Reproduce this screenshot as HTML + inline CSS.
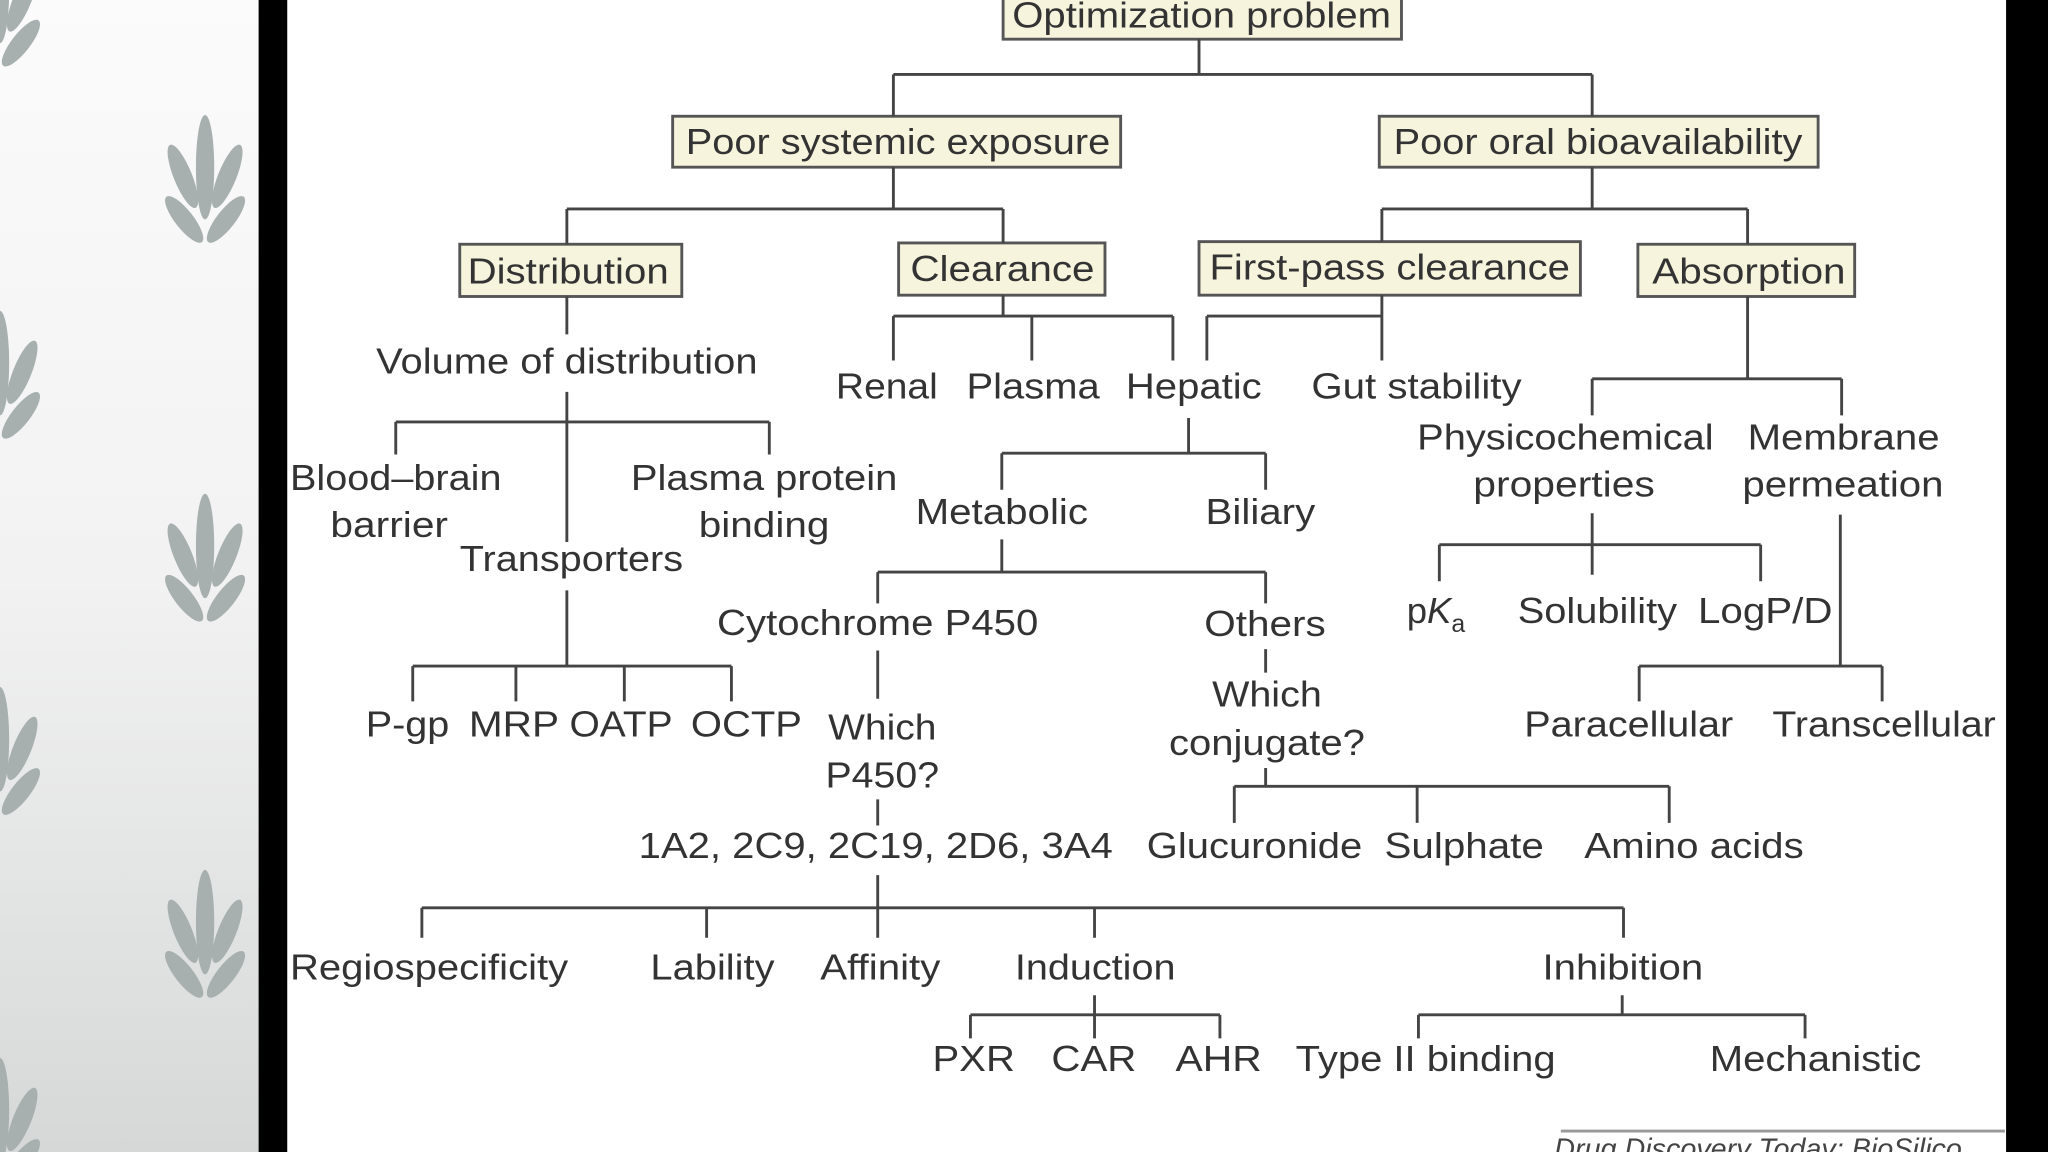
<!DOCTYPE html>
<html><head><meta charset="utf-8"><style>html,body{margin:0;padding:0;background:#fff}svg{display:block}</style></head>
<body>
<svg width="2048" height="1152" viewBox="0 0 1568 882" xmlns="http://www.w3.org/2000/svg">
<defs>
<linearGradient id="bg" x1="0" y1="0" x2="0" y2="1"><stop offset="0" stop-color="#fbfbfb"/><stop offset="0.5" stop-color="#f2f2f2"/><stop offset="1" stop-color="#d6d8d8"/></linearGradient>
<g id="leaf" fill="#a7afaf">
<ellipse cx="0" cy="-12" rx="7" ry="40"/>
<ellipse cx="-17" cy="-5" rx="7" ry="26" transform="rotate(-22 -17 -5)"/>
<ellipse cx="17" cy="-5" rx="7" ry="26" transform="rotate(22 17 -5)"/>
<ellipse cx="-16" cy="28" rx="7" ry="22" transform="rotate(-38 -16 28)"/>
<ellipse cx="16" cy="28" rx="7" ry="22" transform="rotate(38 16 28)"/>
</g>
</defs>
<rect x="0" y="0" width="198" height="882" fill="url(#bg)"/>
<use href="#leaf" x="157" y="140"/>
<use href="#leaf" x="157" y="430"/>
<use href="#leaf" x="157" y="718"/>
<use href="#leaf" x="0" y="5"/>
<use href="#leaf" x="0" y="290"/>
<use href="#leaf" x="0" y="578"/>
<use href="#leaf" x="0" y="862"/>
<rect x="198" y="0" width="22" height="882" fill="#000"/>
<rect x="220" y="0" width="1316" height="882" fill="#fff"/>
<rect x="1536" y="0" width="32" height="882" fill="#000"/>

<g fill="#f6f4dc" stroke="#555" stroke-width="2.2">
<rect x="768" y="-5" width="305" height="35"/>
<rect x="515" y="89" width="343" height="39"/>
<rect x="1056" y="89" width="336" height="39"/>
<rect x="352" y="187" width="170" height="40"/>
<rect x="688" y="186" width="158" height="40"/>
<rect x="918" y="185" width="292" height="41"/>
<rect x="1254" y="187" width="166" height="40"/>
</g>

<g stroke="#444" stroke-width="2.2" fill="none">
<path d="M918 30V57M684 57H1219M684 57V89M1219 57V89"/>
<path d="M684 128V160M434 160H768M434 160V187M768 160V186"/>
<path d="M1219 128V160M1058 160H1338M1058 160V185M1338 160V187"/>
<path d="M434 227V256M434 300V415M434 452V510M303 323H589M303 323V348M589 323V348"/>
<path d="M316 510H560M316 510V537M395 510V537M478 510V537M560 510V537"/>
<path d="M768 226V242M684 242H898M684 242V276M790 242V276M898 242V276"/>
<path d="M1058 226V276M924 242H1058M924 242V276"/>
<path d="M910 320V347M767 347H969M767 347V375M969 347V375"/>
<path d="M767 413V438M672 438H969M672 438V462M969 438V462"/>
<path d="M672 498V535M672 612V632M969 497V515M969 588V602M945 602H1278M945 602V630M1085 602V630M1278 602V630"/>
<path d="M672 670V718M323 695H1243M323 695V718M541 695V718M838 695V718M1243 695V718"/>
<path d="M838 762V795M743 777H934M743 777V795M934 777V795"/>
<path d="M1242 762V777M1086 777H1382M1086 777V795M1382 777V795"/>
<path d="M1338 227V290M1219 290H1410M1219 290V318M1410 290V318"/>
<path d="M1219 393V440M1102 417H1348M1102 417V445M1348 417V445"/>
<path d="M1409 394V510M1255 510H1441M1255 510V537M1441 510V537"/>
<path d="M1195 866H1535" stroke="#999"/>
</g>

<g font-family="Liberation Sans, sans-serif" font-size="28" fill="#333" lengthAdjust="spacingAndGlyphs">
<text x="775" y="21" textLength="290" lengthAdjust="spacingAndGlyphs">Optimization problem</text>
<text x="525" y="118" textLength="325" lengthAdjust="spacingAndGlyphs">Poor systemic exposure</text>
<text x="1067" y="118" textLength="313" lengthAdjust="spacingAndGlyphs">Poor oral bioavailability</text>
<text x="358" y="217" textLength="154" lengthAdjust="spacingAndGlyphs">Distribution</text>
<text x="697" y="215" textLength="141" lengthAdjust="spacingAndGlyphs">Clearance</text>
<text x="926" y="214" textLength="276" lengthAdjust="spacingAndGlyphs">First-pass clearance</text>
<text x="1265" y="217" textLength="148" lengthAdjust="spacingAndGlyphs">Absorption</text>
<text x="288" y="286" textLength="292" lengthAdjust="spacingAndGlyphs">Volume of distribution</text>
<text x="640" y="305" textLength="78" lengthAdjust="spacingAndGlyphs">Renal</text>
<text x="740" y="305" textLength="102" lengthAdjust="spacingAndGlyphs">Plasma</text>
<text x="862" y="305" textLength="104" lengthAdjust="spacingAndGlyphs">Hepatic</text>
<text x="1004" y="305" textLength="161" lengthAdjust="spacingAndGlyphs">Gut stability</text>
<text x="222" y="375" textLength="162" lengthAdjust="spacingAndGlyphs">Blood–brain</text>
<text x="253" y="411" textLength="90" lengthAdjust="spacingAndGlyphs">barrier</text>
<text x="483" y="375" textLength="204" lengthAdjust="spacingAndGlyphs">Plasma protein</text>
<text x="535" y="411" textLength="100" lengthAdjust="spacingAndGlyphs">binding</text>
<text x="352" y="437" textLength="171" lengthAdjust="spacingAndGlyphs">Transporters</text>
<text x="701" y="401" textLength="132" lengthAdjust="spacingAndGlyphs">Metabolic</text>
<text x="923" y="401" textLength="84" lengthAdjust="spacingAndGlyphs">Biliary</text>
<text x="1085" y="344" textLength="227" lengthAdjust="spacingAndGlyphs">Physicochemical</text>
<text x="1128" y="380" textLength="139" lengthAdjust="spacingAndGlyphs">properties</text>
<text x="1338" y="344" textLength="147" lengthAdjust="spacingAndGlyphs">Membrane</text>
<text x="1334" y="380" textLength="154" lengthAdjust="spacingAndGlyphs">permeation</text>
<text x="549" y="486" textLength="246" lengthAdjust="spacingAndGlyphs">Cytochrome P450</text>
<text x="922" y="487" textLength="93" lengthAdjust="spacingAndGlyphs">Others</text>
<text x="1077" y="477">p<tspan font-style="italic">K</tspan><tspan font-size="19" dy="7">a</tspan></text>
<text x="1162" y="477" textLength="122" lengthAdjust="spacingAndGlyphs">Solubility</text>
<text x="1300" y="477" textLength="103" lengthAdjust="spacingAndGlyphs">LogP/D</text>
<text x="280" y="564" textLength="64" lengthAdjust="spacingAndGlyphs">P-gp</text>
<text x="359" y="564" textLength="69" lengthAdjust="spacingAndGlyphs">MRP</text>
<text x="436" y="564" textLength="79" lengthAdjust="spacingAndGlyphs">OATP</text>
<text x="529" y="564" textLength="85" lengthAdjust="spacingAndGlyphs">OCTP</text>
<text x="634" y="566" textLength="83" lengthAdjust="spacingAndGlyphs">Which</text>
<text x="632" y="603" textLength="87" lengthAdjust="spacingAndGlyphs">P450?</text>
<text x="928" y="541" textLength="84" lengthAdjust="spacingAndGlyphs">Which</text>
<text x="895" y="578" textLength="150" lengthAdjust="spacingAndGlyphs">conjugate?</text>
<text x="1167" y="564" textLength="160" lengthAdjust="spacingAndGlyphs">Paracellular</text>
<text x="1357" y="564" textLength="171" lengthAdjust="spacingAndGlyphs">Transcellular</text>
<text x="489" y="657" textLength="363" lengthAdjust="spacingAndGlyphs">1A2, 2C9, 2C19, 2D6, 3A4</text>
<text x="878" y="657" textLength="165" lengthAdjust="spacingAndGlyphs">Glucuronide</text>
<text x="1060" y="657" textLength="122" lengthAdjust="spacingAndGlyphs">Sulphate</text>
<text x="1213" y="657" textLength="168" lengthAdjust="spacingAndGlyphs">Amino acids</text>
<text x="222" y="750" textLength="213" lengthAdjust="spacingAndGlyphs">Regiospecificity</text>
<text x="498" y="750" textLength="95" lengthAdjust="spacingAndGlyphs">Lability</text>
<text x="628" y="750" textLength="92" lengthAdjust="spacingAndGlyphs">Affinity</text>
<text x="777" y="750" textLength="123" lengthAdjust="spacingAndGlyphs">Induction</text>
<text x="1181" y="750" textLength="123" lengthAdjust="spacingAndGlyphs">Inhibition</text>
<text x="714" y="820" textLength="63" lengthAdjust="spacingAndGlyphs">PXR</text>
<text x="805" y="820" textLength="65" lengthAdjust="spacingAndGlyphs">CAR</text>
<text x="900" y="820" textLength="66" lengthAdjust="spacingAndGlyphs">AHR</text>
<text x="992" y="820" textLength="199" lengthAdjust="spacingAndGlyphs">Type II binding</text>
<text x="1309" y="820" textLength="162" lengthAdjust="spacingAndGlyphs">Mechanistic</text>
<text x="1190" y="887" font-size="22" font-style="italic" fill="#444">Drug Discovery Today: BioSilico</text>
</g>
<rect x="1536" y="0" width="32" height="882" fill="#000"/>
</svg>
</body></html>
